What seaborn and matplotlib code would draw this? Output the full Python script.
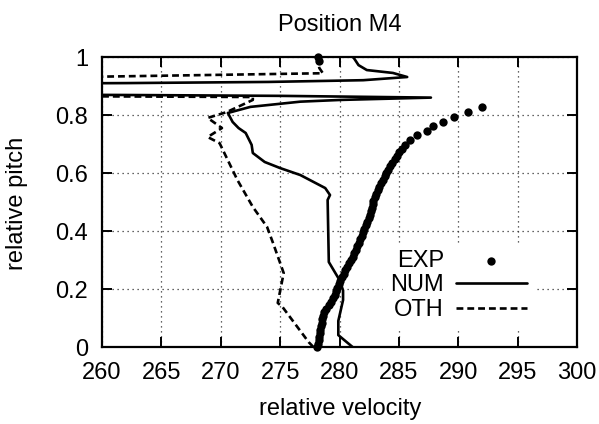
import matplotlib
matplotlib.use("Agg")
import matplotlib.pyplot as plt
import seaborn as sns
import pandas as pd

# ---------------- data ----------------
exp_p = [0.000, 0.012, 0.024, 0.036, 0.048, 0.060, 0.072, 0.084, 0.096, 0.108,
         0.120, 0.132, 0.144, 0.156, 0.168, 0.180, 0.192, 0.204, 0.216, 0.228,
         0.240, 0.252, 0.264, 0.276, 0.288, 0.300, 0.312, 0.324, 0.336, 0.348,
         0.360, 0.372, 0.384, 0.396, 0.408, 0.420, 0.432, 0.444, 0.456, 0.468,
         0.480, 0.492, 0.504, 0.516, 0.528, 0.540, 0.552, 0.564, 0.576, 0.588,
         0.600, 0.612, 0.624, 0.636, 0.648, 0.660, 0.672, 0.684, 0.697, 0.714,
         0.731, 0.745, 0.762, 0.776, 0.793, 0.810, 0.828, 0.985, 1.000]
exp_v = [278.1, 278.2, 278.25, 278.3, 278.35, 278.4, 278.45, 278.5, 278.55, 278.6,
         278.7, 278.9, 279.1, 279.3, 279.45, 279.6, 279.7, 279.8, 279.95, 280.05,
         280.2, 280.35, 280.5, 280.65, 280.8, 280.95, 281.1, 281.25, 281.4, 281.5,
         281.6, 281.75, 281.9, 282.0, 282.1, 282.25, 282.35, 282.45, 282.55, 282.65,
         282.7, 282.8, 282.85, 282.95, 283.05, 283.2, 283.35, 283.5, 283.65, 283.8,
         283.95, 284.1, 284.25, 284.45, 284.65, 284.85, 285.05, 285.3, 285.55, 285.95,
         286.55, 287.4, 287.9, 288.75, 289.6, 290.8, 292.0, 278.3, 278.2]

num_p = [0.000, 0.041, 0.090, 0.162, 0.195, 0.231, 0.293, 0.507, 0.524, 0.548,
         0.593, 0.617, 0.638, 0.669, 0.697, 0.738, 0.755, 0.776, 0.807, 0.817,
         0.828, 0.846, 0.852, 0.860, 0.866, 0.869, 0.871, 0.908, 0.910, 0.914,
         0.920, 0.931, 0.945, 0.955, 0.972, 0.997, 1.000]
num_v = [281.1, 279.9, 279.9, 280.3, 280.3, 280.0, 279.1, 279.0, 279.2, 278.8,
         276.7, 275.0, 273.7, 272.7, 272.6, 272.1, 271.5, 271.0, 270.6, 271.5,
         272.5, 276.7, 280.1, 287.7, 275.0, 262.0, 250.0, 250.0, 262.0, 274.0,
         282.0, 285.7, 284.5, 282.3, 281.6, 281.2, 281.1]

oth_p = [0.000, 0.017, 0.138, 0.152, 0.255, 0.359, 0.414, 0.483, 0.576, 0.703,
         0.724, 0.755, 0.790, 0.810, 0.852, 0.862, 0.866, 0.926, 0.944, 0.962,
         1.000]
oth_v = [277.8, 277.4, 275.2, 274.8, 275.3, 274.4, 273.9, 272.7, 271.4, 269.9,
         268.9, 270.1, 268.9, 270.5, 272.7, 272.7, 250.0, 250.0, 278.6, 278.3,
         278.1]

x_ticks = [260, 265, 270, 275, 280, 285, 290, 295, 300]
y_ticks = [0, 0.2, 0.4, 0.6, 0.8, 1]
y_tick_labels = ["0", "0.2", "0.4", "0.6", "0.8", "1"]

# ---------------- style ----------------
sns.set_theme(style="ticks")
plt.rcParams["font.family"] = ["Liberation Sans", "DejaVu Sans"]
FS = 17
plt.rcParams.update({
    "font.size": FS,
    "text.color": "black",
    "axes.labelcolor": "black",
    "axes.titlecolor": "black",
    "xtick.color": "black",
    "ytick.color": "black",
    "legend.labelcolor": "black",
})

fig = plt.figure(figsize=(5.99, 4.24), dpi=100)
ax = fig.add_axes([102 / 599, 1 - 347 / 424, 475 / 599, 290 / 424])

exp_df = pd.DataFrame({"v": exp_v, "p": exp_p})
num_df = pd.DataFrame({"v": num_v, "p": num_p})
oth_df = pd.DataFrame({"v": oth_v, "p": oth_p})

sns.scatterplot(data=exp_df, x="v", y="p", ax=ax, color="black", s=36,
                linewidth=0, label="EXP", zorder=3, clip_on=False)
sns.lineplot(data=num_df, x="v", y="p", ax=ax, color="black", lw=1.9,
             sort=False, estimator=None, label="NUM", zorder=2)
sns.lineplot(data=oth_df, x="v", y="p", ax=ax, color="black", lw=1.9,
             sort=False, estimator=None, label="OTH", zorder=2,
             linestyle=(0, (2.6, 1.5)))

ax.set_xlim(260, 300)
ax.set_ylim(0, 1)
ax.set_xticks(x_ticks)
ax.set_xticklabels([str(t) for t in x_ticks])
ax.set_yticks(y_ticks)
ax.set_yticklabels(y_tick_labels)

ax.grid(True, linestyle=(0, (1, 3)), color="#333333", linewidth=0.9)
ax.set_axisbelow(True)

for sp in ax.spines.values():
    sp.set_visible(True)
    sp.set_linewidth(1.6)
    sp.set_color("black")
    sp.set_zorder(4)

ax.tick_params(axis="both", which="major", direction="in", length=7, width=1.4,
               top=True, right=True, labelsize=FS, colors="black")
ax.tick_params(axis="x", pad=11)
ax.tick_params(axis="y", pad=10)

ax.set_xlabel("relative velocity", fontsize=FS, color="black")
ax.set_ylabel("relative pitch", fontsize=FS, color="black")
ax.xaxis.set_label_coords(340 / 599, 1 - 409 / 424, transform=fig.transFigure)
ax.xaxis.label.set_va("center")
ax.yaxis.set_label_coords(17 / 599, 1 - 203 / 424, transform=fig.transFigure)
ax.yaxis.label.set_va("center")

ax.set_title("Position M4", fontsize=FS, pad=19, color="black")

leg = ax.legend(loc="lower right", bbox_to_anchor=(0.909, 0.066),
                markerfirst=False, frameon=True, fancybox=False,
                edgecolor="none", facecolor="white", framealpha=1.0,
                fontsize=FS, handlelength=3.0, handletextpad=0.5,
                labelspacing=0.1, borderpad=0.3, borderaxespad=0)
for t in leg.get_texts():
    t.set_ha("right")
    t.set_color("black")

fig.savefig("out.png", dpi=100)
